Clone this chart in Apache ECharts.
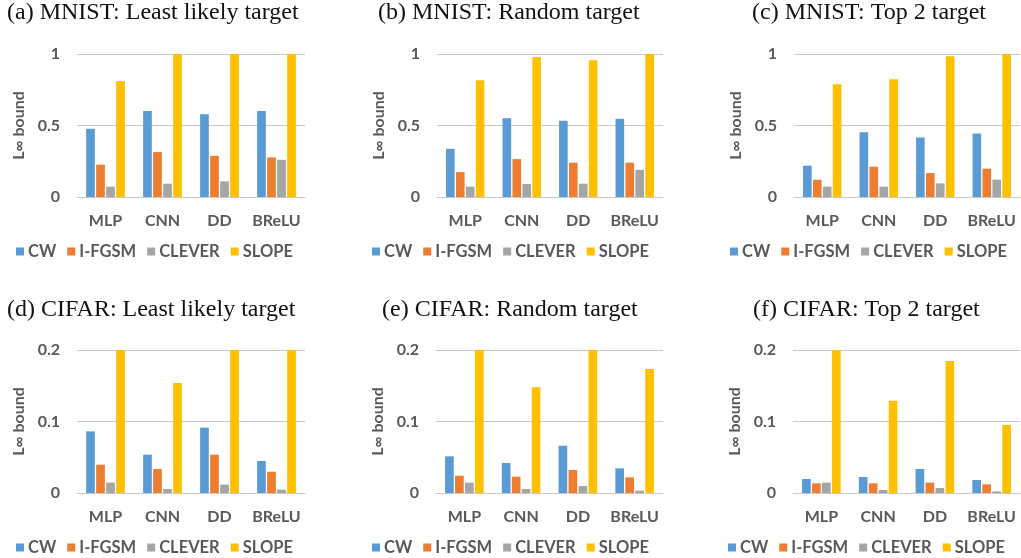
<!DOCTYPE html>
<html>
<head>
<meta charset="utf-8">
<script src="https://cdn.jsdelivr.net/npm/echarts@6/dist/echarts.min.js"></script>
<style>
html,body{margin:0;padding:0;background:#fff;}
#c{width:1021px;height:558px;}
</style>
</head>
<body>
<div id="c"></div>
<script>
const categories = ['MLP', 'CNN', 'DD', 'BReLU'];
const methods = ['CW', 'I-FGSM', 'CLEVER', 'SLOPE'];
const panelTitles = [
  '(a) MNIST: Least likely target',
  '(b) MNIST: Random target',
  '(c) MNIST: Top 2 target',
  '(d) CIFAR: Least likely target',
  '(e) CIFAR: Random target',
  '(f) CIFAR: Top 2 target'
];
const mnistTicks = [0, 0.5, 1];
const cifarTicks = [0, 0.1, 0.2];

// values per panel, rows in method order: CW, I-FGSM, CLEVER, SLOPE; columns in category order
const mnistLeast = [
  [0.477, 0.602, 0.579, 0.602],
  [0.226, 0.314, 0.288, 0.277],
  [0.072, 0.093, 0.109, 0.260],
  [0.812, 1.0, 1.0, 1.0]
];
const mnistRandom = [
  [0.337, 0.551, 0.533, 0.547],
  [0.174, 0.265, 0.240, 0.240],
  [0.072, 0.091, 0.093, 0.190],
  [0.816, 0.979, 0.956, 1.0]
];
const mnistTop2 = [
  [0.219, 0.453, 0.416, 0.444],
  [0.121, 0.212, 0.167, 0.198],
  [0.072, 0.072, 0.095, 0.121],
  [0.788, 0.823, 0.984, 1.0]
];
const cifarLeast = [
  [0.0862, 0.0536, 0.0914, 0.0448],
  [0.0396, 0.0336, 0.0536, 0.0298],
  [0.0145, 0.0056, 0.0117, 0.0047],
  [0.2, 0.154, 0.2, 0.2]
];
const cifarRandom = [
  [0.0513, 0.0420, 0.0662, 0.0345],
  [0.0242, 0.0228, 0.0322, 0.0219],
  [0.0145, 0.0056, 0.0098, 0.0033],
  [0.2, 0.148, 0.2, 0.1734]
];
const cifarTop2 = [
  [0.0196, 0.0224, 0.0336, 0.0182],
  [0.0135, 0.0135, 0.0145, 0.0121],
  [0.0145, 0.0042, 0.0070, 0.0023],
  [0.2, 0.129, 0.1846, 0.0951]
];

const panelData = [mnistLeast, mnistRandom, mnistTop2, cifarLeast, cifarRandom, cifarTop2];
const panelTicks = [mnistTicks, mnistTicks, mnistTicks, cifarTicks, cifarTicks, cifarTicks];
const colors = ['#5B9BD5', '#ED7D31', '#A5A5A5', '#FFC000'];

// layout
const gridBoxes = [
  {left: 77, right: 716, top: 54, height: 143},
  {left: 437, right: 358, top: 54, height: 143},
  {left: 794, right: 1, top: 54, height: 143},
  {left: 77, right: 716, top: 350, height: 143},
  {left: 436, right: 358, top: 350, height: 143},
  {left: 793, right: 1, top: 350, height: 143}
];
const titlePos = [
  {left: 7, top: 1}, {left: 378, top: 1}, {left: 752, top: 1},
  {left: 7, top: 298}, {left: 382, top: 298}, {left: 753, top: 298}
];
const legendPos = [
  {left: 16, top: 243}, {left: 372, top: 243}, {left: 730, top: 243},
  {left: 16, top: 539}, {left: 372, top: 539}, {left: 728, top: 539}
];

const txt = '#595959';
const lineCol = '#C9C9C9';
const fontFam = 'Lato, "Open Sans", sans-serif';

const option = {
  animation: false,
  backgroundColor: '#fff',
  color: colors,
  title: panelTitles.map((t, i) => ({
    text: t, left: titlePos[i].left, top: titlePos[i].top, padding: 0,
    textStyle: {fontFamily: '"Liberation Serif", "DejaVu Serif", serif', fontWeight: 'normal', fontSize: 24, color: '#111'}
  })),
  legend: legendPos.map((p, i) => ({
    data: methods, left: p.left, top: p.top, padding: 0,
    itemWidth: 8, itemHeight: 8, itemGap: 11, icon: 'rect',
    textStyle: {fontFamily: fontFam, fontWeight: 'bold', fontSize: 16.5, color: txt, padding: [0, 0, 0, -1]}
  })),
  grid: gridBoxes.map(g => Object.assign({containLabel: false}, g)),
  xAxis: gridBoxes.map((g, i) => ({
    type: 'category', gridIndex: i, data: categories,
    axisTick: {show: false},
    axisLine: {show: true, lineStyle: {color: lineCol, width: 1}},
    axisLabel: {interval: 0, margin: 16, fontFamily: fontFam, fontWeight: 'bold', fontSize: 16, color: txt}
  })),
  yAxis: gridBoxes.map((g, i) => {
    const ticks = panelTicks[i];
    return {
      type: 'value', gridIndex: i, min: ticks[0], max: ticks[ticks.length - 1],
      interval: ticks[1] - ticks[0],
      axisLine: {show: false}, axisTick: {show: false},
      splitLine: {show: true, lineStyle: {color: lineCol, width: 1}},
      axisLabel: {
        margin: 17, fontFamily: fontFam, fontWeight: 'bold', fontSize: 16, color: txt,
        formatter: v => String(parseFloat(v.toFixed(3)))
      },
      name: '{l|L}{s|∞}{l| bound}',
      nameLocation: 'middle', nameRotate: 90, nameGap: 50,
      nameTextStyle: {
        rich: {
          l: {fontFamily: fontFam, fontWeight: 'bold', fontSize: 16, color: txt},
          s: {fontFamily: fontFam, fontWeight: 'bold', fontSize: 15, color: txt, verticalAlign: 'bottom'}
        }
      }
    };
  }),
  series: []
};

panelData.forEach((rows, i) => {
  rows.forEach((vals, m) => {
    option.series.push({
      type: 'bar', name: methods[m], xAxisIndex: i, yAxisIndex: i,
      data: vals, barGap: '15%', barCategoryGap: '32%',
      itemStyle: {color: colors[m]},
      clip: true
    });
  });
});

const chart = echarts.init(document.getElementById('c'), null, {renderer: 'canvas'});
chart.setOption(option);
</script>
</body>
</html>
